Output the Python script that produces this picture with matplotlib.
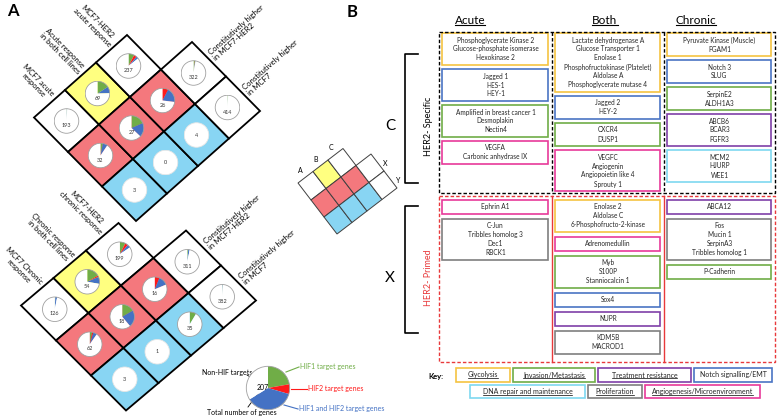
import numpy as np
import matplotlib.pyplot as plt
import matplotlib.transforms as mtransforms
from matplotlib.patches import Rectangle, Circle

plt.rcParams['font.family'] = ['Lato', 'DejaVu Sans']

W, H = 778, 418

# ---------------- panel A data ----------------
# cell (i, j): row i = 0 response row, 1-2 constitutive rows; j = column
acute_total = [[193, 69, 237, None], [32, 27, 26, 322], [3, 0, 4, 414]]
acute_hif1 = [[1, 11, 18, None], [1, 5, 0, 6], [0, 0, 0, 3]]
acute_hif2 = [[0, 0, 9, None], [0, 0, 2, 1], [0, 0, 0, 0]]
acute_both = [[1, 6, 7, None], [2, 5, 5, 2], [0, 0, 0, 1]]

chronic_total = [[126, 54, 199, None], [62, 18, 16, 311], [3, 1, 35, 382]]
chronic_hif1 = [[1, 9, 15, None], [2, 3, 0, 4], [0, 0, 3, 2]]
chronic_hif2 = [[0, 1, 8, None], [1, 0, 1, 0], [0, 0, 0, 0]]
chronic_both = [[3, 5, 8, None], [3, 4, 2, 6], [0, 0, 0, 2]]

acute_col_labels = ['MCF7 acute\nresponse', 'Acute response\nin both cell lines',
                    'MCF7-HER2\nacute response']
chronic_col_labels = ['MCF7 Chronic\nresponse', 'Chronic response\nin both cell lines',
                      'MCF7-HER2\nchronic response']
const_labels = ['Constitutively higher\nin MCF7-HER2', 'Constitutively higher\nin MCF7']

legend_counts = [46, 15, 76, 70]  # HIF1, HIF2, HIF1+HIF2, non-HIF
legend_names = ['HIF1 target genes', 'HIF2 target genes', 'HIF1 and HIF2 target genes']

# ---------------- panel B data ----------------
columns = ['Acute', 'Both', 'Chronic']
key_names = ['Glycolysis', 'Invasion/Metastasis', 'Treatment resistance',
             'Notch signalling/EMT', 'DNA repair and maintenance', 'Proliferation',
             'Angiogenesis/Microenvironment']

specific_acute = [
    ('Glycolysis', ['Phosphoglycerate Kinase 2', 'Glucose-phosphate isomerase', 'Hexokinase 2']),
    ('Notch signalling/EMT', ['Jagged 1', 'HES-1', 'HEY-1']),
    ('Invasion/Metastasis', ['Amplified in breast cancer 1', 'Desmoplakin', 'Nectin4']),
    ('Angiogenesis/Microenvironment', ['VEGFA', 'Carbonic anhydrase IX'])]
specific_both = [
    ('Glycolysis', ['Lactate dehydrogenase A', 'Glucose Transporter 1', 'Enolase 1',
                    'Phosphofructokinase (Platelet)', 'Aldolase A', 'Phosphoglycerate mutase 4']),
    ('Notch signalling/EMT', ['Jagged 2', 'HEY-2']),
    ('Invasion/Metastasis', ['CXCR4', 'DUSP1']),
    ('Angiogenesis/Microenvironment', ['VEGFC', 'Angiogenin', 'Angiopoietin like 4', 'Sprouty 1'])]
specific_chronic = [
    ('Glycolysis', ['Pyruvate Kinase (Muscle)', 'PGAM1']),
    ('Notch signalling/EMT', ['Notch 3', 'SLUG']),
    ('Invasion/Metastasis', ['SerpinE2', 'ALDH1A3']),
    ('Treatment resistance', ['ABCB6', 'BCAR3', 'FGFR3']),
    ('DNA repair and maintenance', ['MCM2', 'HJURP', 'WEE1'])]

primed_acute = [
    ('Angiogenesis/Microenvironment', ['Ephrin A1']),
    ('Proliferation', ['C-Jun', 'Tribbles homolog 3', 'Dec1', 'RBCK1'])]
primed_both = [
    ('Glycolysis', ['Enolase 2', 'Aldolase C', '6-Phosphofructo-2-kinase']),
    ('Angiogenesis/Microenvironment', ['Adrenomedullin']),
    ('Invasion/Metastasis', ['Myb', 'S100P', 'Stanniocalcin 1']),
    ('Notch signalling/EMT', ['Sox4']),
    ('Treatment resistance', ['NUPR']),
    ('Proliferation', ['KDM5B', 'MACROD1'])]
primed_chronic = [
    ('Treatment resistance', ['ABCA12']),
    ('Proliferation', ['Fos', 'Mucin 1', 'SerpinA3', 'Tribbles homolog 1']),
    ('Invasion/Metastasis', ['P-Cadherin'])]

# ---------------- styles ----------------
GREEN, RED2, BLUE2 = '#70AD47', '#FF1A1A', '#4472C4'
YEL, SALMON, SKY = '#FFFF80', '#F4787D', '#88D5F3'
cell_fill = [['white', YEL, 'white', None],
             [SALMON, SALMON, SALMON, 'white'],
             [SKY, SKY, SKY, 'white']]
cat_colors = {'Glycolysis': '#F5C342', 'Invasion/Metastasis': '#70AD47',
              'Treatment resistance': '#7F3FA8', 'Notch signalling/EMT': '#4A74C4',
              'DNA repair and maintenance': '#7ED8F0', 'Proliferation': '#7F7F7F',
              'Angiogenesis/Microenvironment': '#E8399A'}

fig = plt.figure(figsize=(W / 100, H / 100), dpi=100)
ax = fig.add_axes([0, 0, 1, 1])
ax.set_xlim(0, W)
ax.set_ylim(H, 0)
ax.axis('off')


def pie_at(cx, cy, r, vals, colors, outline):
    pax = fig.add_axes([(cx - r) / W, 1 - (cy + r) / H, 2 * r / W, 2 * r / H])
    pax.pie(vals, colors=colors, startangle=90, counterclock=False,
            wedgeprops=dict(linewidth=0))
    pax.add_patch(Circle((0, 0), 1, fill=False, ec=outline, lw=0.6))
    pax.set_xlim(-1.06, 1.06)
    pax.set_ylim(-1.06, 1.06)
    return pax


def grid_tf(origin, a, b):
    return mtransforms.Affine2D(np.array([[b[0], a[0], origin[0]],
                                          [b[1], a[1], origin[1]],
                                          [0, 0, 1.0]]))


def draw_diamond(origin, a, b, total, h1, h2, hb, col_labels, r=13):
    tf = grid_tf(origin, a, b)
    rot_a = -np.degrees(np.arctan2(a[1], a[0]))
    rot_b = -np.degrees(np.arctan2(b[1], b[0]))
    for i in range(3):
        for j in range(4):
            if total[i][j] is None:
                continue
            ax.add_patch(Rectangle((j, i), 1, 1, transform=tf + ax.transData,
                                   fc=cell_fill[i][j], ec='black', lw=1.3))
            cx, cy = tf.transform((j + 0.5, i + 0.5))
            hif = [h1[i][j], h2[i][j], hb[i][j]]
            rest = total[i][j] - sum(hif)
            if sum(hif) == 0:
                pax = pie_at(cx, cy, r, [1], ['white'], '#E6E6E6')
                pax.text(0, 0, str(total[i][j]), ha='center', va='center',
                         fontsize=4, color='#333333')
            else:
                pax = pie_at(cx, cy, r, hif + [rest],
                             [GREEN, RED2, BLUE2, 'white'], '#A0A0A0')
                pax.text(0, -0.38, str(total[i][j]), ha='center', va='center',
                         fontsize=4, color='#333333')
    for j, lab in enumerate(col_labels):
        x, y = tf.transform((j + 0.62, -0.08))
        ax.text(x, y, lab, rotation=rot_a, rotation_mode='anchor', ha='right',
                va='center', multialignment='center', fontsize=5.5, linespacing=1.1)
    for k, lab in enumerate(const_labels):
        x, y = tf.transform((4.1, k + 1.5))
        ax.text(x, y, lab, rotation=rot_b, rotation_mode='anchor', ha='left',
                va='center', multialignment='left', fontsize=5.6, linespacing=1.1)


draw_diamond((34, 117.5), (34, 34.5), (31, -27.5),
             acute_total, acute_hif1, acute_hif2, acute_both, acute_col_labels)
draw_diamond((21, 305.5), (35, 35), (32.5, -27.5),
             chronic_total, chronic_hif1, chronic_hif2, chronic_both, chronic_col_labels)

# small explanatory grid
stf = grid_tf((298, 183), (13, 17), (15, -11.5))
for i in range(3):
    for j in range(4):
        if cell_fill[i][j] is None:
            continue
        ax.add_patch(Rectangle((j, i), 1, 1, transform=stf + ax.transData,
                               fc=cell_fill[i][j], ec='#404040', lw=0.7))
for j, lab in enumerate(['A', 'B', 'C']):
    x, y = stf.transform((j + 0.5, -0.38))
    ax.text(x, y, lab, ha='center', va='center', fontsize=5)
for k, lab in enumerate(['X', 'Y']):
    x, y = stf.transform((4.3, k + 1.75))
    ax.text(x, y, lab, ha='center', va='center', fontsize=5)

# pie legend
lx, ly, lr = 268, 388, 23
lp = pie_at(lx, ly, lr, legend_counts, [GREEN, RED2, BLUE2, 'white'], '#A0A0A0')
lp.text(-0.26, 0.04, str(sum(legend_counts)), ha='center', va='center', fontsize=5)
leg_lines = [((286, 372), (299, 367)), ((291, 389), (307, 389)), ((284, 405), (298, 409))]
for (p0, p1), name, col in zip(leg_lines, legend_names, [GREEN, RED2, BLUE2]):
    ax.plot([p0[0], p1[0]], [p0[1], p1[1]], color=col, lw=0.8)
    ax.text(p1[0] + 1, p1[1], name, color=col, ha='left', va='center', fontsize=5)
ax.text(227, 373, 'Non-HIF targets', ha='center', va='center', fontsize=5)
ax.plot([247, 257], [375, 381], color='black', lw=0.6)
ax.text(207, 413, 'Total number of genes', ha='left', va='center', fontsize=5)
ax.plot([259, 248], [392, 407], color='black', lw=0.6)

ax.text(13, 11, 'A', fontsize=12, fontweight='bold', ha='center', va='center')
ax.text(352, 12, 'B', fontsize=12, fontweight='bold', ha='center', va='center')

# ---------------- panel B ----------------
renderer = fig.canvas.get_renderer()


def underline(t, off=0.2, lw=0.6, color='black'):
    bb = t.get_window_extent(renderer)
    (x0, y0), (x1, _) = ax.transData.inverted().transform([[bb.x0, bb.y0], [bb.x1, bb.y1]])
    ax.plot([x0, x1], [y0 - off, y0 - off], color=color, lw=lw)


col_x = [439, 552, 664, 775]
header_x = [470, 605, 696]
for name, hx in zip(columns, header_x):
    t = ax.text(hx, 20, name, ha='center', va='center', fontsize=8.5)
    underline(t, off=1.0, lw=0.8)

LINE_H, PAD = 9.0, 5.0


def draw_group(x0, x1, y_start, gap, boxes):
    y = y_start
    for cat, genes in boxes:
        h = len(genes) * LINE_H + PAD
        ax.add_patch(Rectangle((x0 + 3.5, y), x1 - x0 - 7, h, fill=False,
                               ec=cat_colors[cat], lw=1.2))
        for k, g in enumerate(genes):
            ax.text((x0 + x1) / 2, y + PAD / 2 + (k + 0.5) * LINE_H, g, ha='center',
                    va='center', fontsize=4.7, color='#262626')
        y += h + gap


for c, boxes in enumerate([specific_acute, specific_both, specific_chronic]):
    draw_group(col_x[c], col_x[c + 1], 33, 4, boxes)
for c, boxes in enumerate([primed_acute, primed_both, primed_chronic]):
    draw_group(col_x[c], col_x[c + 1], 199.5, 5, boxes)

spec_y, prim_y = (32, 193), (196, 362)
ax.add_patch(Rectangle((col_x[0], spec_y[0]), col_x[3] - col_x[0], spec_y[1] - spec_y[0],
                       fill=False, ec='black', lw=1.0, ls=(0, (2.5, 1.5))))
ax.add_patch(Rectangle((col_x[0], prim_y[0]), col_x[3] - col_x[0], prim_y[1] - prim_y[0],
                       fill=False, ec='#E8393B', lw=1.0, ls=(0, (2.5, 1.5))))
for xd in col_x[1:3]:
    ax.plot([xd, xd], spec_y, color='black', lw=1.0, ls=(0, (2.5, 1.5)))
    ax.plot([xd, xd], prim_y, color='#E8393B', lw=1.0)

# brackets
for (y0, y1), letter, lab, col in [((54, 183), 'C', 'HER2- Specific', 'black'),
                                    ((206, 333), 'X', 'HER2- Primed', '#E8393B')]:
    ax.plot([418, 405, 405, 418], [y0, y0, y1, y1], color='black', lw=1.2)
    ax.text(390, (y0 + y1) / 2 + 8, letter, ha='center', va='center', fontsize=11)
    ax.text(429, (y0 + y1) / 2 + 8, lab, rotation=90, ha='center', va='center',
            fontsize=6.5, color=col)

# key
ax.text(436, 376, 'Key:', ha='center', va='center', fontsize=5.5, fontweight='bold')
key_w = [54, 82, 93, 78, 115, 54, 115]
key_rows = [(456, 368, 14, [0, 1, 2, 3]), (470, 385, 13, [4, 5, 6])]
for x, y, h, idx in key_rows:
    for k in idx:
        name = key_names[k]
        ax.add_patch(Rectangle((x, y), key_w[k], h, fill=False, ec=cat_colors[name], lw=1.2))
        t = ax.text(x + key_w[k] / 2, y + h / 2, name, ha='center', va='center',
                    fontsize=5, color='#262626')
        if name != 'Notch signalling/EMT':
            underline(t, off=0.3, lw=0.5)
        x += key_w[k] + 3

fig.savefig('out.png', dpi=100)
